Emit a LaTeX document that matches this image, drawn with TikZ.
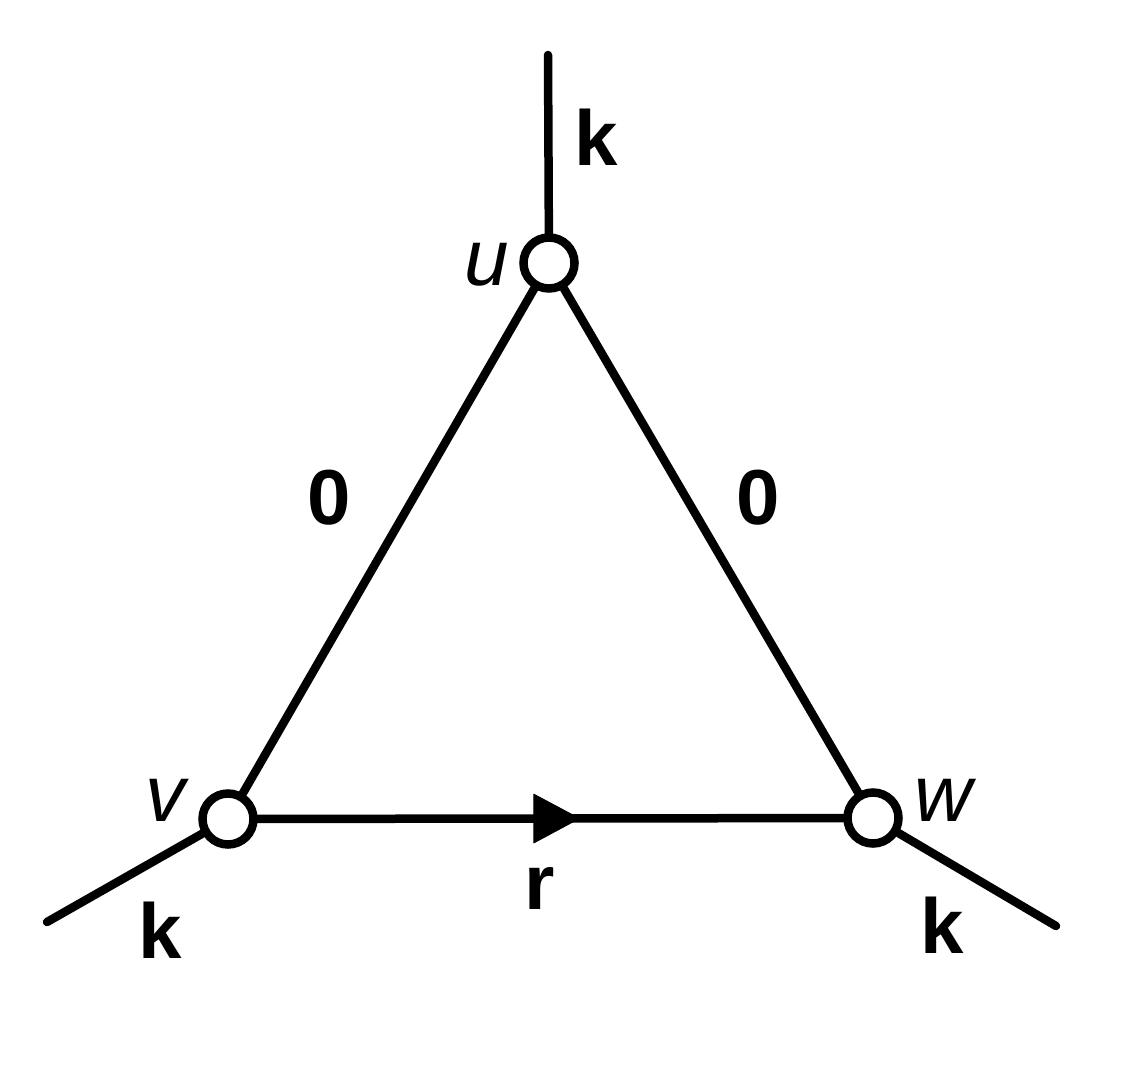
\documentclass[tikz,border=0pt]{standalone}
\usepackage{fontspec}
\setmainfont{Liberation Sans}
\usetikzlibrary{arrows.meta,decorations.markings}
\begin{document}
\begin{tikzpicture}[x=1pt,y=-1pt,
  vtx/.style={circle,draw,line width=8.5pt,minimum size=51pt,inner sep=0pt,fill=white},
  edge/.style={line width=8.5pt,line cap=round},
  lbl/.style={inner sep=0pt,font=\fontsize{78}{94}\selectfont\bfseries},
  vlbl/.style={inner sep=0pt,font=\fontsize{80}{96}\selectfont\itshape},
  arrowmid/.style={postaction={decorate},decoration={markings,
     mark=at position 0.55 with {\arrow[line width=1pt]{Triangle[length=47pt,width=50pt,round]}}}}
]
\useasboundingbox (0,0) rectangle (1131,1075);
\node[vtx] (u) at (549,263) {};
\node[vtx] (v) at (228,819) {};
\node[vtx] (w) at (873,818) {};
\coordinate (ut) at (548,55);
\coordinate (vt) at (47,922);
\coordinate (wt) at (1056,926);
\draw[edge] (u) -- (ut);
\draw[edge] (v) -- (vt);
\draw[edge] (w) -- (wt);
\draw[edge] (u) -- (v);
\draw[edge] (u) -- (w);
\draw[edge,arrowmid] (v) -- (w);
\node[vlbl] (lu) at (487,265) {u};
\node[vlbl] (lv) at (165,800) {v};
\node[vlbl] (lw) at (943,800) {w};
\node[lbl] (k1) at (596,137) {k};
\node[lbl] (k2) at (160,930) {k};
\node[lbl] (k3) at (942,925) {k};
\node[lbl] (z1) at (329,498) {0};
\node[lbl] (z2) at (758,498) {0};
\node[lbl] (r) at (540,888) {r};
\end{tikzpicture}
\end{document}
